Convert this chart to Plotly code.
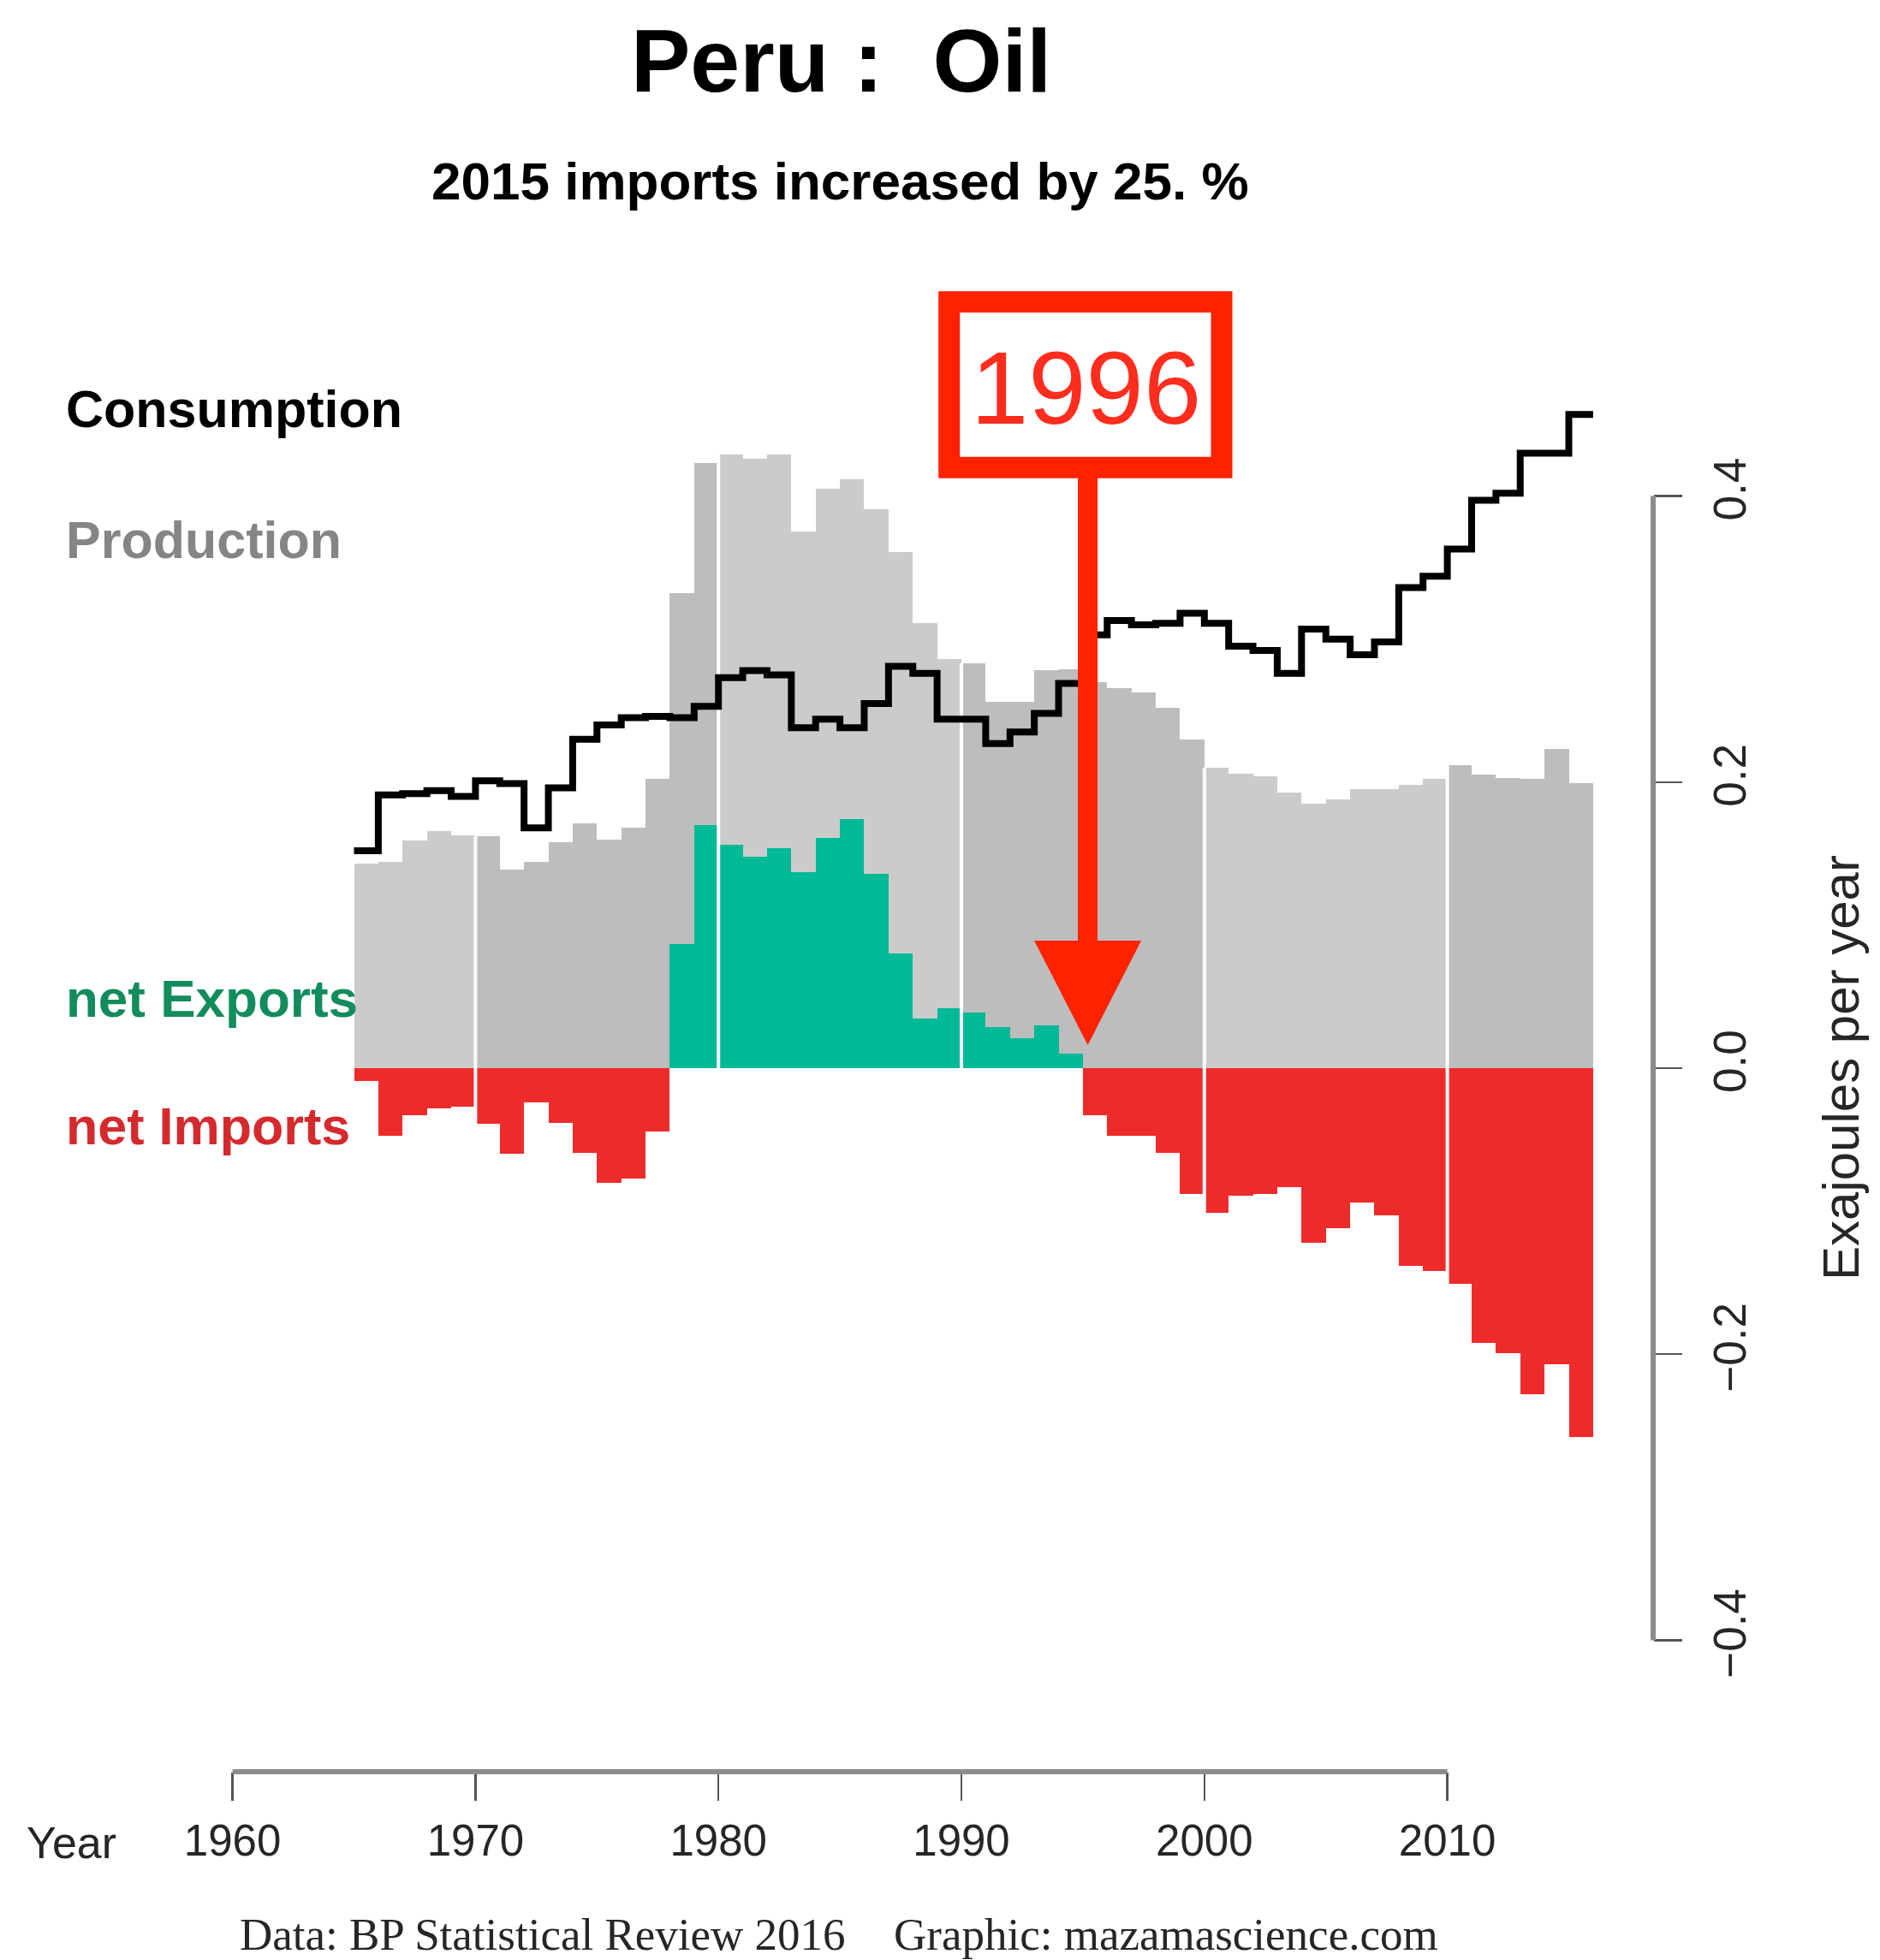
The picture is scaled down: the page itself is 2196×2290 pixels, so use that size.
import plotly.graph_objects as go

# ---------------- data (Exajoules per year) ----------------
years = list(range(1965, 2016))

consumption = [
    0.152, 0.191, 0.192, 0.194, 0.190,
    0.201, 0.199, 0.168, 0.196, 0.230,
    0.240, 0.245, 0.246, 0.245, 0.253,
    0.273, 0.278, 0.275, 0.238, 0.244,
    0.238, 0.255, 0.281, 0.276, 0.244,
    0.244, 0.227, 0.235, 0.248, 0.269,
    0.303, 0.313, 0.310, 0.311, 0.318,
    0.311, 0.295, 0.292, 0.276, 0.307,
    0.300, 0.289, 0.298, 0.336, 0.344,
    0.363, 0.397, 0.402, 0.430, 0.430, 0.457,
]

production = [
    0.143, 0.144, 0.159, 0.166, 0.163,
    0.162, 0.139, 0.144, 0.158, 0.171,
    0.160, 0.168, 0.202, 0.332, 0.423,
    0.429, 0.426, 0.429, 0.375, 0.405,
    0.412, 0.391, 0.361, 0.311, 0.286,
    0.283, 0.256, 0.256, 0.278, 0.279,
    0.270, 0.266, 0.2625, 0.252, 0.230,
    0.210, 0.206, 0.204, 0.193, 0.185,
    0.188, 0.195, 0.195, 0.198, 0.202,
    0.212, 0.205, 0.203, 0.202, 0.223, 0.199,
]

x_ticks = [1960, 1970, 1980, 1990, 2000, 2010]
y_ticks = [-0.4, -0.2, 0.0, 0.2, 0.4]
y_tick_labels = ["\u22120.4", "\u22120.2", "0.0", "0.2", "0.4"]
decades = [1970, 1980, 1990, 2000, 2010]

title_text = "Peru :&nbsp; Oil"
subtitle_text = "2015 imports increased by 25. %"
highlight_year_label = "1996"
highlight_x = 1995.2

# ---------------- derived series ----------------
net = [p - c for p, c in zip(production, consumption)]
exports = [max(v, 0.0) for v in net]
imports = [min(v, 0.0) for v in net]
bar_x = [y + 0.5 for y in years]

LIGHT = "#cbcbcb"
DARK = "#bdbdbd"
bar_colors = [LIGHT if ((y // 10) % 2 == 0) else DARK for y in years]
GREEN = "#00b996"
RED = "#ee2b2b"
ANN_RED = "#ff2200"
TXT = "#262626"
FONT = "Liberation Sans, Arial, Helvetica, sans-serif"
SERIF = "Liberation Serif, Times New Roman, serif"

# ---------------- pixel geometry of the plot area ----------------
W, H = 2196, 2290
L, R, T, B = 60, 1931, 330, 2070
X1960, PX_YEAR = 271.6, 28.38
Y0, PX_UNIT = 1248.0, 1671.0
x_range = [1960 + (L - X1960) / PX_YEAR, 1960 + (R - X1960) / PX_YEAR]
y_range = [(Y0 - B) / PX_UNIT, (Y0 - T) / PX_UNIT]


def px_x(px):
    return (px - L) / (R - L)


def px_y(py):
    return (B - py) / (B - T)


def val_y(py):
    return (Y0 - py) / PX_UNIT


def val_x(px):
    return 1960 + (px - X1960) / PX_YEAR


fig = go.Figure()

fig.add_trace(go.Bar(x=bar_x, y=production, width=1.0,
                     marker=dict(color=bar_colors, line=dict(width=0)),
                     hoverinfo="skip"))
fig.add_trace(go.Bar(x=bar_x, y=exports, width=1.0,
                     marker=dict(color=GREEN, line=dict(width=0)),
                     hoverinfo="skip"))
fig.add_trace(go.Bar(x=bar_x, y=imports, width=1.0,
                     marker=dict(color=RED, line=dict(width=0)),
                     hoverinfo="skip"))

# white decade separators
sep_x, sep_y = [], []
for d in decades:
    i = years.index(d)
    sep_x += [d, d, None]
    sep_y += [imports[i], production[i], None]
fig.add_trace(go.Scatter(x=sep_x, y=sep_y, mode="lines",
                         line=dict(color="white", width=4),
                         hoverinfo="skip"))

# consumption step line
fig.add_trace(go.Scatter(x=years + [years[-1] + 1],
                         y=consumption + [consumption[-1]],
                         mode="lines", line=dict(color="black", width=8, shape="hv"),
                         hoverinfo="skip"))

shapes = [
    # x axis line (R style, only over tick range)
    dict(type="line", xref="x", yref="paper", x0=x_ticks[0], x1=x_ticks[-1],
         y0=0, y1=0, line=dict(color="#8c8c8c", width=6), layer="above"),
    # y axis line
    dict(type="line", xref="paper", yref="y", x0=1, x1=1,
         y0=y_ticks[0], y1=y_ticks[-1], line=dict(color="#8c8c8c", width=6), layer="above"),
    # highlight box
    dict(type="rect", xref="x", yref="y",
         x0=val_x(1108.7), x1=val_x(1427.0), y0=val_y(546.3), y1=val_y(352.8),
         line=dict(color=ANN_RED, width=25), fillcolor="rgba(0,0,0,0)", layer="above"),
    # arrow shaft
    dict(type="line", xref="x", yref="y", x0=highlight_x, x1=highlight_x,
         y0=val_y(547), y1=val_y(1102), line=dict(color=ANN_RED, width=23), layer="above"),
]
hx_l = highlight_x - 62.5 / PX_YEAR
hx_r = highlight_x + 62.5 / PX_YEAR
shapes.append(dict(type="path", xref="x", yref="y",
                   path=f"M {hx_l},{val_y(1099)} L {hx_r},{val_y(1099)} L {highlight_x},{val_y(1221)} Z",
                   fillcolor=ANN_RED, line=dict(width=0), layer="above"))

annotations = [
    dict(text=f"<b>{title_text}</b>", x=px_x(982), y=px_y(71), xref="paper", yref="paper",
         showarrow=False, font=dict(family=FONT, size=104, color="black"),
         xanchor="center", yanchor="middle"),
    dict(text=f"<b>{subtitle_text}</b>", x=px_x(981), y=px_y(211), xref="paper", yref="paper",
         showarrow=False, font=dict(family=FONT, size=62, color="black"),
         xanchor="center", yanchor="middle"),
    dict(text="<b>Consumption</b>", x=px_x(75), y=px_y(478), xref="paper", yref="paper",
         showarrow=False, font=dict(family=FONT, size=61, color="black"),
         xanchor="left", yanchor="middle"),
    dict(text="<b>Production</b>", x=px_x(75), y=px_y(631), xref="paper", yref="paper",
         showarrow=False, font=dict(family=FONT, size=61, color="#858585"),
         xanchor="left", yanchor="middle"),
    dict(text="<b>net Exports</b>", x=px_x(75), y=px_y(1166), xref="paper", yref="paper",
         showarrow=False, font=dict(family=FONT, size=62, color="#138c5c"),
         xanchor="left", yanchor="middle"),
    dict(text="<b>net Imports</b>", x=px_x(75), y=px_y(1316), xref="paper", yref="paper",
         showarrow=False, font=dict(family=FONT, size=61, color="#d42a2e"),
         xanchor="left", yanchor="middle"),
    dict(text="Year", x=px_x(83), y=px_y(2153), xref="paper", yref="paper",
         showarrow=False, font=dict(family=FONT, size=52, color=TXT),
         xanchor="center", yanchor="middle"),
    dict(text="Exajoules per year", x=px_x(2150), y=px_y(1248), xref="paper", yref="paper",
         showarrow=False, textangle=-90, font=dict(family=FONT, size=60, color=TXT),
         xanchor="center", yanchor="middle"),
    dict(text="Data: BP Statistical Review 2016", x=px_x(990), y=px_y(2260),
         xref="paper", yref="paper", showarrow=False,
         font=dict(family=SERIF, size=53, color=TXT),
         xanchor="right", yanchor="middle"),
    dict(text="Graphic: mazamascience.com", x=px_x(1042), y=px_y(2260),
         xref="paper", yref="paper", showarrow=False,
         font=dict(family=SERIF, size=53, color=TXT),
         xanchor="left", yanchor="middle"),
    dict(text=highlight_year_label, x=val_x(1268), y=val_y(453), xref="x", yref="y",
         showarrow=False, font=dict(family=FONT, size=121, color="#ff2d1e"),
         xanchor="center", yanchor="middle"),
]

fig.update_layout(
    width=W, height=H,
    margin=dict(l=L, r=W - R, t=T, b=H - B, pad=0),
    paper_bgcolor="white", plot_bgcolor="white",
    barmode="overlay", bargap=0, showlegend=False,
    shapes=shapes, annotations=annotations,
    font=dict(family=FONT, color=TXT),
    xaxis=dict(range=x_range, tickmode="array", tickvals=x_ticks,
               ticktext=[str(t) for t in x_ticks],
               showgrid=False, zeroline=False, showline=False,
               ticks="outside", ticklen=33, tickwidth=2.5, tickcolor="#555555",
               tickfont=dict(family=FONT, size=51, color=TXT),
               ticklabelstandoff=3, fixedrange=True),
    yaxis=dict(range=y_range, side="right", tickmode="array", tickvals=y_ticks,
               ticktext=y_tick_labels, tickangle=-90,
               showgrid=False, zeroline=False, showline=False,
               ticks="outside", ticklen=33, tickwidth=2.5, tickcolor="#555555",
               tickfont=dict(family=FONT, size=53, color=TXT),
               ticklabelstandoff=10, fixedrange=True),
)

fig.write_html(
    "out.html",
    config={"displayModeBar": False, "staticPlot": True},
    post_script=("document.body.style.margin='0px';"
                 "document.body.style.overflow='hidden';"
                 "document.documentElement.style.overflow='hidden';"),
)
